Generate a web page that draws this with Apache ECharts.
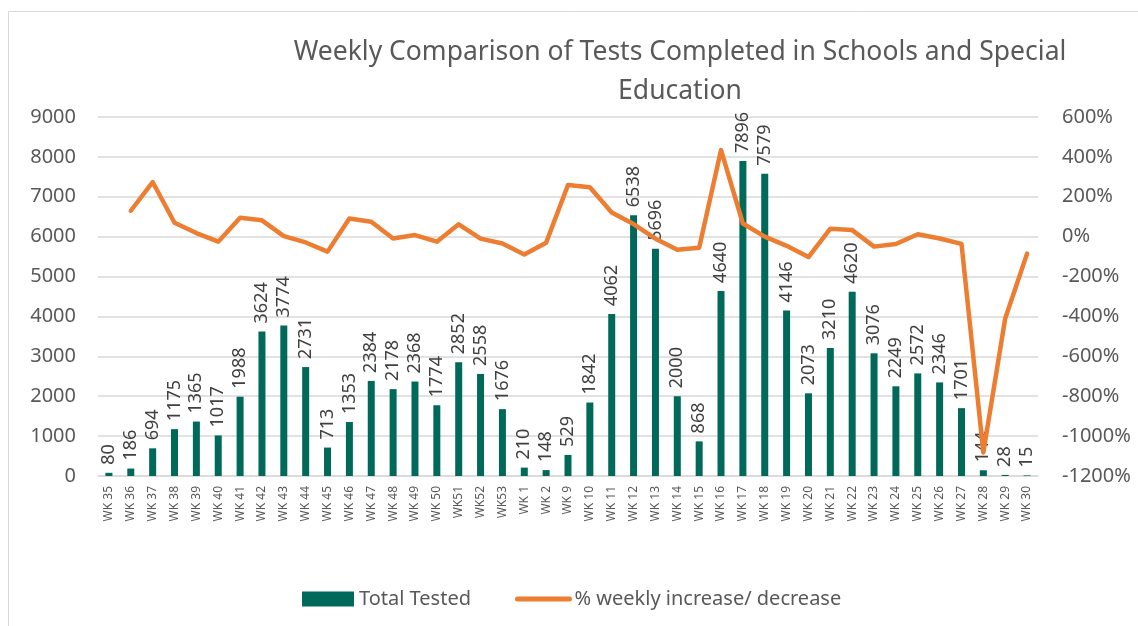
<!DOCTYPE html>
<html>
<head>
<meta charset="utf-8">
<script src="https://cdn.jsdelivr.net/npm/echarts@6/dist/echarts.min.js"></script>
<style>
  html, body { margin: 0; padding: 0; background: #fff; }
  #chart { width: 1138px; height: 626px; }
</style>
</head>
<body>
<div id="chart"></div>
<script>
// week labels
var weeks = ['WK 35', 'WK 36', 'WK 37', 'WK 38', 'WK 39', 'WK 40', 'WK 41', 'WK 42', 'WK 43', 'WK 44',
    'WK 45', 'WK 46', 'WK 47', 'WK 48', 'WK 49', 'WK 50', 'WK51', 'WK52', 'WK53', 'WK 1',
    'WK 2', 'WK 9', 'WK 10', 'WK 11', 'WK 12', 'WK 13', 'WK 14', 'WK 15', 'WK 16', 'WK 17',
    'WK 18', 'WK 19', 'WK 20', 'WK 21', 'WK 22', 'WK 23', 'WK 24', 'WK 25', 'WK 26', 'WK 27',
    'WK 28', 'WK 29', 'WK 30'];

// total tested per week
var totalTested = [80, 186, 694, 1175, 1365, 1017, 1988, 3624, 3774, 2731,
    713, 1353, 2384, 2178, 2368, 1774, 2852, 2558, 1676, 210,
    148, 529, 1842, 4062, 6538, 5696, 2000, 868, 4640, 7896,
    7579, 4146, 2073, 3210, 4620, 3076, 2249, 2572, 2346, 1701,
    144, 28, 15];

// % weekly increase / decrease
var weeklyChange = ['-', 130, 274, 70, 18, -25, 95, 82, 3, -29,
    -75, 91, 75, -9, 8, -25, 62, -10, -34, -89,
    -30, 259, 248, 121, 63, -10, -66, -56, 434, 66,
    0, -46, -102, 40, 33, -50, -37, 12, -9, -36,
    -1082, -410, -85];

var leftTicks = { min: 0, max: 9000, interval: 1000 };
var rightTicks = { min: -1200, max: 600, interval: 200 };

var txt = '#595959';
var font = 'Noto Sans';

var chart = echarts.init(document.getElementById('chart'));

var option = {
    backgroundColor: '#fff',
    animation: false,
    textStyle: { fontFamily: font },
    graphic: [
        {
            type: 'rect',
            shape: { x: 8.5, y: 11.5, width: 1200, height: 700 },
            style: { fill: 'none', stroke: '#d9d9d9', lineWidth: 1 },
            silent: true
        },
        {
            type: 'text',
            x: 680,
            y: 33,
            style: {
                text: 'Weekly Comparison of Tests Completed in Schools and Special\nEducation',
                align: 'center',
                fill: txt,
                font: '26.5px "Noto Sans"',
                lineHeight: 39
            }
        }
    ],
    grid: { left: 98, right: 100, top: 117, bottom: 150 },
    legend: {
        left: 297,
        top: 584,
        itemWidth: 52,
        itemHeight: 15,
        itemGap: 44,
        textStyle: { fontSize: 20, color: txt, fontFamily: font },
        data: [
            { name: 'Total Tested', icon: 'rect' },
            { name: '% weekly increase/ decrease', itemStyle: { opacity: 0 }, lineStyle: { width: 5, cap: 'round' } }
        ]
    },
    xAxis: {
        type: 'category',
        data: weeks,
        axisTick: { show: false },
        axisLine: { lineStyle: { color: '#d9d9d9', width: 1.5 } },
        axisLabel: {
            rotate: 90,
            interval: 0,
            color: txt,
            fontSize: 12,
            margin: 10
        }
    },
    yAxis: [
        {
            type: 'value',
            min: leftTicks.min,
            max: leftTicks.max,
            interval: leftTicks.interval,
            axisLabel: { color: txt, fontSize: 20, margin: 22, formatter: function (v) { return String(v); } },
            splitLine: { lineStyle: { color: '#d9d9d9', width: 1.5 } },
            axisLine: { show: false },
            axisTick: { show: false }
        },
        {
            type: 'value',
            min: rightTicks.min,
            max: rightTicks.max,
            interval: rightTicks.interval,
            position: 'right',
            axisLabel: { color: txt, fontSize: 20, margin: 24, formatter: function (v) { return v + '%'; } },
            splitLine: { show: false },
            axisLine: { show: false },
            axisTick: { show: false }
        }
    ],
    series: [
        {
            name: 'Total Tested',
            type: 'bar',
            data: totalTested,
            barWidth: 7,
            itemStyle: { color: '#00695A' },
            label: {
                show: true,
                position: 'top',
                rotate: 90,
                align: 'left',
                verticalAlign: 'middle',
                distance: 8,
                color: '#404040',
                fontSize: 18
            }
        },
        {
            name: '% weekly increase/ decrease',
            type: 'line',
            yAxisIndex: 1,
            data: weeklyChange,
            symbol: 'none',
            lineStyle: { color: '#ED7D31', width: 4.5, cap: 'round', join: 'round' },
            itemStyle: { color: '#ED7D31' },
            z: 3
        }
    ]
};

chart.setOption(option);
</script>
</body>
</html>
